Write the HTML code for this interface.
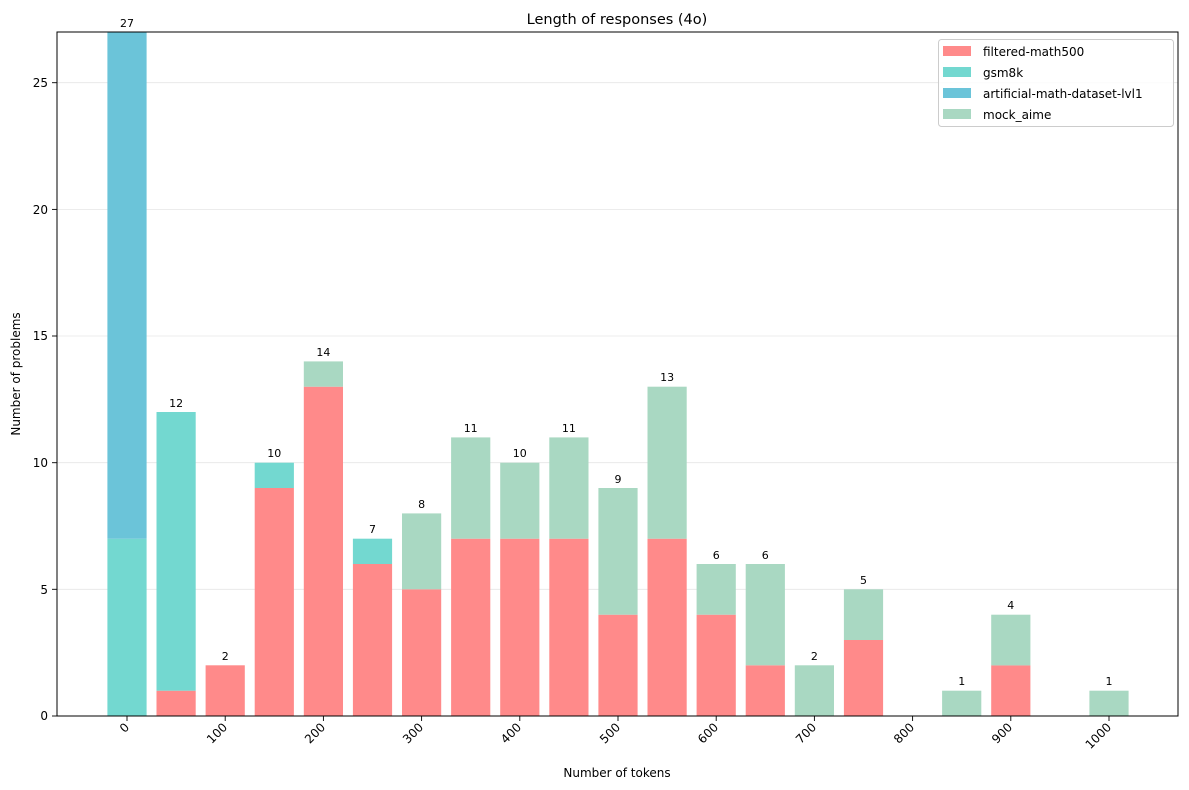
<!DOCTYPE html>
<html><head><meta charset="utf-8"><style>body{margin:0;background:#fff}svg{display:block;font-family:"DejaVu Sans","Liberation Sans",sans-serif}</style></head>
<body>
<svg width="1189" height="790" viewBox="0 0 1189 790" xmlns="http://www.w3.org/2000/svg">
<rect width="1189" height="790" fill="#fff"/>
<text x="617" y="24" font-size="14.5" text-anchor="middle">Length of responses (4o)</text>
<g stroke="#e6e6e6" stroke-width="0.8">
<line x1="57" x2="1178" y1="589.3" y2="589.3"/><line x1="57" x2="1178" y1="462.7" y2="462.7"/>
<line x1="57" x2="1178" y1="336" y2="336"/><line x1="57" x2="1178" y1="209.4" y2="209.4"/>
<line x1="57" x2="1178" y1="82.7" y2="82.7"/>
</g>
<g>
<!-- 0 -->
<rect x="107.4" y="538.7" width="39.2" height="177.3" fill="#73D8D0"/>
<rect x="107.4" y="32" width="39.2" height="506.7" fill="#6BC4D9"/>
<!-- 1 -->
<rect x="156.5" y="690.7" width="39.2" height="25.3" fill="#FF8A8A"/>
<rect x="156.5" y="412" width="39.2" height="278.7" fill="#73D8D0"/>
<!-- 2 -->
<rect x="205.6" y="665.3" width="39.2" height="50.7" fill="#FF8A8A"/>
<!-- 3 -->
<rect x="254.7" y="488" width="39.2" height="228" fill="#FF8A8A"/>
<rect x="254.7" y="462.7" width="39.2" height="25.3" fill="#73D8D0"/>
<!-- 4 -->
<rect x="303.8" y="386.7" width="39.2" height="329.3" fill="#FF8A8A"/>
<rect x="303.8" y="361.4" width="39.2" height="25.3" fill="#A9D8C2"/>
<!-- 5 -->
<rect x="352.9" y="564" width="39.2" height="152" fill="#FF8A8A"/>
<rect x="352.9" y="538.7" width="39.2" height="25.3" fill="#73D8D0"/>
<!-- 6 -->
<rect x="402" y="589.3" width="39.2" height="126.7" fill="#FF8A8A"/>
<rect x="402" y="513.4" width="39.2" height="75.9" fill="#A9D8C2"/>
<!-- 7 -->
<rect x="451.1" y="538.7" width="39.2" height="177.3" fill="#FF8A8A"/>
<rect x="451.1" y="437.4" width="39.2" height="101.3" fill="#A9D8C2"/>
<!-- 8 -->
<rect x="500.2" y="538.7" width="39.2" height="177.3" fill="#FF8A8A"/>
<rect x="500.2" y="462.7" width="39.2" height="76" fill="#A9D8C2"/>
<!-- 9 -->
<rect x="549.3" y="538.7" width="39.2" height="177.3" fill="#FF8A8A"/>
<rect x="549.3" y="437.4" width="39.2" height="101.3" fill="#A9D8C2"/>
<!-- 10 -->
<rect x="598.4" y="614.7" width="39.2" height="101.3" fill="#FF8A8A"/>
<rect x="598.4" y="488" width="39.2" height="126.7" fill="#A9D8C2"/>
<!-- 11 -->
<rect x="647.5" y="538.7" width="39.2" height="177.3" fill="#FF8A8A"/>
<rect x="647.5" y="386.7" width="39.2" height="152" fill="#A9D8C2"/>
<!-- 12 -->
<rect x="696.6" y="614.7" width="39.2" height="101.3" fill="#FF8A8A"/>
<rect x="696.6" y="564" width="39.2" height="50.7" fill="#A9D8C2"/>
<!-- 13 -->
<rect x="745.7" y="665.3" width="39.2" height="50.7" fill="#FF8A8A"/>
<rect x="745.7" y="564" width="39.2" height="101.3" fill="#A9D8C2"/>
<!-- 14 -->
<rect x="794.8" y="665.3" width="39.2" height="50.7" fill="#A9D8C2"/>
<!-- 15 -->
<rect x="843.9" y="640" width="39.2" height="76" fill="#FF8A8A"/>
<rect x="843.9" y="589.3" width="39.2" height="50.7" fill="#A9D8C2"/>
<!-- 17 -->
<rect x="942.1" y="690.7" width="39.2" height="25.3" fill="#A9D8C2"/>
<!-- 18 -->
<rect x="991.2" y="665.3" width="39.2" height="50.7" fill="#FF8A8A"/>
<rect x="991.2" y="614.7" width="39.2" height="50.7" fill="#A9D8C2"/>
<!-- 20 -->
<rect x="1089.4" y="690.7" width="39.2" height="25.3" fill="#A9D8C2"/>
</g>
<g font-size="11" text-anchor="middle">
<text x="127" y="27">27</text><text x="176.1" y="407">12</text><text x="225.2" y="660">2</text>
<text x="274.3" y="457">10</text><text x="323.4" y="356">14</text><text x="372.5" y="533">7</text>
<text x="421.6" y="508">8</text><text x="470.7" y="432">11</text><text x="519.8" y="457">10</text>
<text x="568.9" y="432">11</text><text x="618" y="483">9</text><text x="667.1" y="381">13</text>
<text x="716.2" y="559">6</text><text x="765.3" y="559">6</text><text x="814.4" y="660">2</text>
<text x="863.5" y="584">5</text><text x="961.7" y="685">1</text><text x="1010.8" y="609">4</text>
<text x="1109" y="685">1</text>
</g>
<rect x="57" y="32" width="1121" height="684" fill="none" stroke="#000" stroke-width="1"/>
<g stroke="#000" stroke-width="0.9">
<line x1="52" x2="57" y1="716" y2="716"/><line x1="52" x2="57" y1="589.3" y2="589.3"/>
<line x1="52" x2="57" y1="462.7" y2="462.7"/><line x1="52" x2="57" y1="336" y2="336"/>
<line x1="52" x2="57" y1="209.4" y2="209.4"/><line x1="52" x2="57" y1="82.7" y2="82.7"/>
<line x1="127" x2="127" y1="716" y2="721"/><line x1="225.2" x2="225.2" y1="716" y2="721"/>
<line x1="323.4" x2="323.4" y1="716" y2="721"/><line x1="421.6" x2="421.6" y1="716" y2="721"/>
<line x1="519.8" x2="519.8" y1="716" y2="721"/><line x1="618" x2="618" y1="716" y2="721"/>
<line x1="716.2" x2="716.2" y1="716" y2="721"/><line x1="814.4" x2="814.4" y1="716" y2="721"/>
<line x1="912.6" x2="912.6" y1="716" y2="721"/><line x1="1010.8" x2="1010.8" y1="716" y2="721"/>
<line x1="1109" x2="1109" y1="716" y2="721"/>
</g>
<g font-size="12" text-anchor="end">
<text x="48" y="720">0</text><text x="48" y="594">5</text><text x="48" y="467">10</text>
<text x="48" y="340">15</text><text x="48" y="214">20</text><text x="48" y="87">25</text>
</g>
<g font-size="12" text-anchor="end">
<text transform="translate(130,728) rotate(-45)">0</text>
<text transform="translate(228,728) rotate(-45)">100</text>
<text transform="translate(326,728) rotate(-45)">200</text>
<text transform="translate(424,728) rotate(-45)">300</text>
<text transform="translate(522,728) rotate(-45)">400</text>
<text transform="translate(621,728) rotate(-45)">500</text>
<text transform="translate(719,728) rotate(-45)">600</text>
<text transform="translate(817,728) rotate(-45)">700</text>
<text transform="translate(915,728) rotate(-45)">800</text>
<text transform="translate(1013,728) rotate(-45)">900</text>
<text transform="translate(1112,728) rotate(-45)">1000</text>
</g>
<text x="617" y="777" font-size="12" text-anchor="middle">Number of tokens</text>
<text transform="translate(20,374) rotate(-90)" font-size="12" text-anchor="middle">Number of problems</text>
<rect x="938.5" y="39.5" width="235" height="87" rx="3" fill="#fff" fill-opacity="0.8" stroke="#ccc"/>
<rect x="943" y="46" width="28" height="10" fill="#FF8A8A"/>
<rect x="943" y="67" width="28" height="10" fill="#73D8D0"/>
<rect x="943" y="88" width="28" height="10" fill="#6BC4D9"/>
<rect x="943" y="109" width="28" height="10" fill="#A9D8C2"/>
<g font-size="12">
<text x="983" y="56">filtered-math500</text><text x="983" y="77">gsm8k</text>
<text x="983" y="98">artificial-math-dataset-lvl1</text><text x="983" y="119">mock_aime</text>
</g>
</svg>
</body></html>
